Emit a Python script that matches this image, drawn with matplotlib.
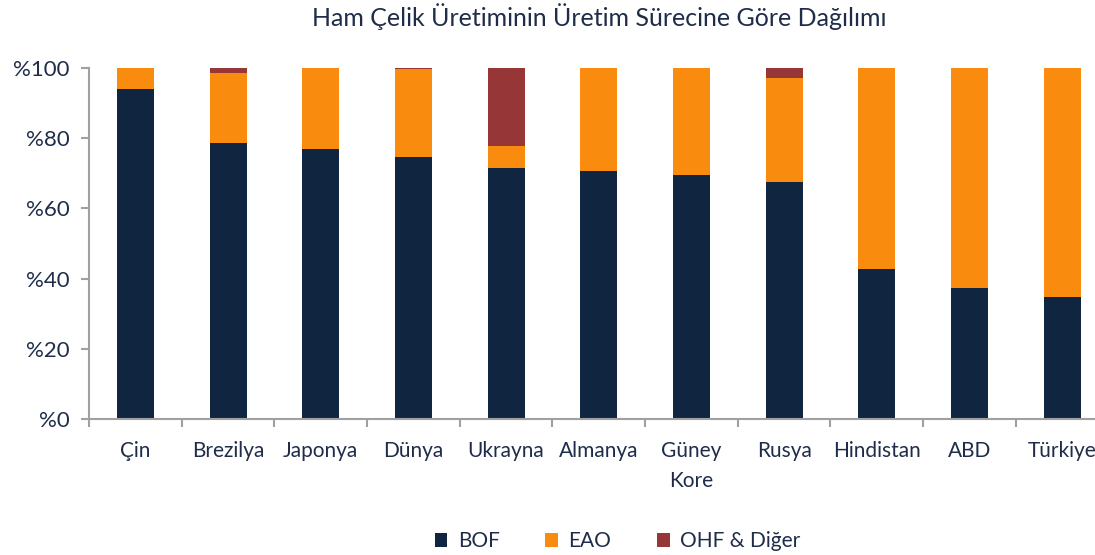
import numpy as np
import matplotlib.pyplot as plt

plt.rcParams['font.family'] = ['Lato', 'DejaVu Sans']

countries = ["Çin", "Brezilya", "Japonya", "Dünya", "Ukrayna", "Almanya",
             "Güney\nKore", "Rusya", "Hindistan", "ABD", "Türkiye"]
bof = np.array([94.0, 78.6, 76.9, 74.6, 71.5, 70.7, 69.5, 67.5, 42.7, 37.3, 34.8])
eao = np.array([6.0, 20.0, 23.1, 25.0, 6.3, 29.3, 30.5, 29.7, 57.3, 62.7, 65.2])
ohf = 100 - bof - eao

navy = '#10253f'
orange = '#f98b0f'
red = '#963636'
txt = '#1f2d4a'
gray = '#a0a0a0'

fig = plt.figure(figsize=(10.95, 5.55), dpi=100)
ax = fig.add_axes([0.0813, 0.245, 0.931, 0.6324])

x = np.arange(len(countries))
w = 0.4
ax.bar(x, bof, w, color=navy, label='BOF')
ax.bar(x, eao, w, bottom=bof, color=orange, label='EAO')
ax.bar(x, ohf, w, bottom=bof + eao, color=red, label='OHF & Diğer')

ax.set_xlim(-0.5, len(countries) - 0.5)
ax.set_ylim(0, 100)
ax.set_yticks(np.arange(0, 101, 20))
ax.set_yticklabels([f"%{v}" for v in range(0, 101, 20)])
ax.set_xticks(x)
ax.set_xticklabels(countries, linespacing=1.6)
ax.set_xticks(np.arange(-0.5, len(countries)), minor=True)
ax.tick_params(axis='x', which='major', length=0, pad=16, labelsize=15, colors=txt)
ax.tick_params(axis='x', which='minor', length=6, width=1.5, color=gray)
ax.tick_params(axis='y', length=6, width=1.5, color=gray, pad=8, labelsize=16, labelcolor=txt)

for s in ['top', 'right']:
    ax.spines[s].set_visible(False)
for s in ['left', 'bottom']:
    ax.spines[s].set_color(gray)
    ax.spines[s].set_linewidth(1.5)

fig.suptitle("Ham Çelik Üretiminin Üretim Sürecine Göre Dağılımı", x=0.547, y=0.995,
             fontsize=18, color=txt)

fig.legend(loc='lower center', bbox_to_anchor=(0.564, -0.027), ncol=3, frameon=False,
           fontsize=15, handlelength=0.6, handleheight=0.6, columnspacing=2.2,
           handletextpad=0.5, labelcolor=txt)

fig.savefig('out.png', dpi=100)
